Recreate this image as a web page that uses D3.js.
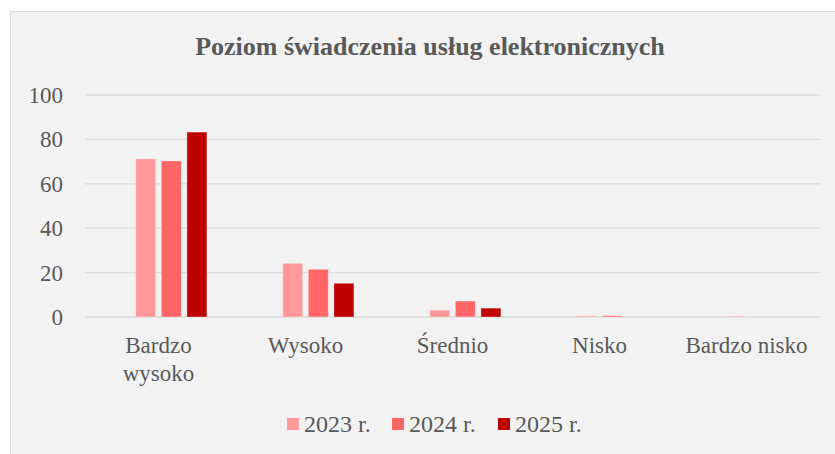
<!DOCTYPE html>
<html>
<head>
<meta charset="utf-8">
<script src="https://cdn.jsdelivr.net/npm/d3@7"></script>
<style>
body { margin:0; background:#fff; }
svg text { font-family: "Liberation Serif", "Times New Roman", serif; fill:#595959; }
</style>
</head>
<body>
<script>
// data
var categories = ["Bardzo wysoko", "Wysoko", "Średnio", "Nisko", "Bardzo nisko"];
var series = ["2023 r.", "2024 r.", "2025 r."];
var colors = ["#ff9999", "#ff6666", "#c00000"];
var v2023 = [71.2, 24.2, 3.1, 0.5, 0.4];
var v2024 = [70.3, 21.5, 7.2, 0.6, 0];
var v2025 = [83.3, 15.2, 4.0, 0, 0];
var values = [v2023, v2024, v2025];
var yTicks = [0, 20, 40, 60, 80, 100];

var W = 835, H = 454;
var m = { l: 85, r: 15, t: 95, b: 137 };

var svg = d3.select("body").append("svg").attr("width", W).attr("height", H);

// chart area
svg.append("rect").attr("x", 10.5).attr("y", 11.5).attr("width", W).attr("height", H)
	.attr("fill", "#f2f2f2").attr("stroke", "#d9d9d9").attr("stroke-width", 1);

svg.append("text").attr("x", 430).attr("y", 55).attr("text-anchor", "middle")
	.attr("font-size", 26).attr("font-weight", "bold")
	.text("Poziom świadczenia usług elektronicznych");

var x = d3.scaleBand().domain(categories).range([m.l, W - m.r]).paddingInner(0.265).paddingOuter(0.1325);
// Excel layout keeps an empty first slot in each group
var x1 = d3.scaleBand().domain([0, 1, 2, 3]).range([0, x.bandwidth()]).padding(0.22);
var y = d3.scaleLinear().domain([0, 100]).range([H - m.b, m.t]);

// grid
svg.append("g").selectAll("line").data(yTicks).join("line")
	.attr("x1", m.l).attr("x2", W - m.r)
	.attr("y1", d => y(d)).attr("y2", d => y(d))
	.attr("stroke", "#d9d9d9").attr("stroke-width", 1.3);

svg.append("g").selectAll("text").data(yTicks).join("text")
	.attr("x", 63).attr("y", d => y(d) + 8).attr("text-anchor", "end")
	.attr("font-size", 23).text(d => d);

// bars
series.forEach(function(s, i) {
	svg.append("g").selectAll("rect").data(values[i]).join("rect")
		.attr("x", (d, j) => x(categories[j]) + x1(i + 1))
		.attr("y", d => y(d))
		.attr("width", x1.bandwidth())
		.attr("height", d => y(0) - y(d))
		.attr("fill", colors[i])
		.attr("stroke", d => d > 0 ? "rgba(255,255,255,0.35)" : "none")
		.attr("stroke-width", 1);
});

// category labels
categories.forEach(function(c) {
	var cx = x(c) + x.bandwidth() / 2;
	var lines = c == "Bardzo wysoko" ? ["Bardzo", "wysoko"] : [c];
	var t = svg.append("text").attr("text-anchor", "middle").attr("font-size", 23);
	lines.forEach(function(l, k) {
		t.append("tspan").attr("x", cx).attr("y", 353 + k * 28).text(l);
	});
});

// legend
var lx = [287, 392, 498];
series.forEach(function(s, i) {
	svg.append("rect").attr("x", lx[i]).attr("y", 418).attr("width", 12).attr("height", 12).attr("fill", colors[i]);
	svg.append("text").attr("x", lx[i] + 17).attr("y", 432).attr("font-size", 24).text(s);
});
</script>
</body>
</html>
